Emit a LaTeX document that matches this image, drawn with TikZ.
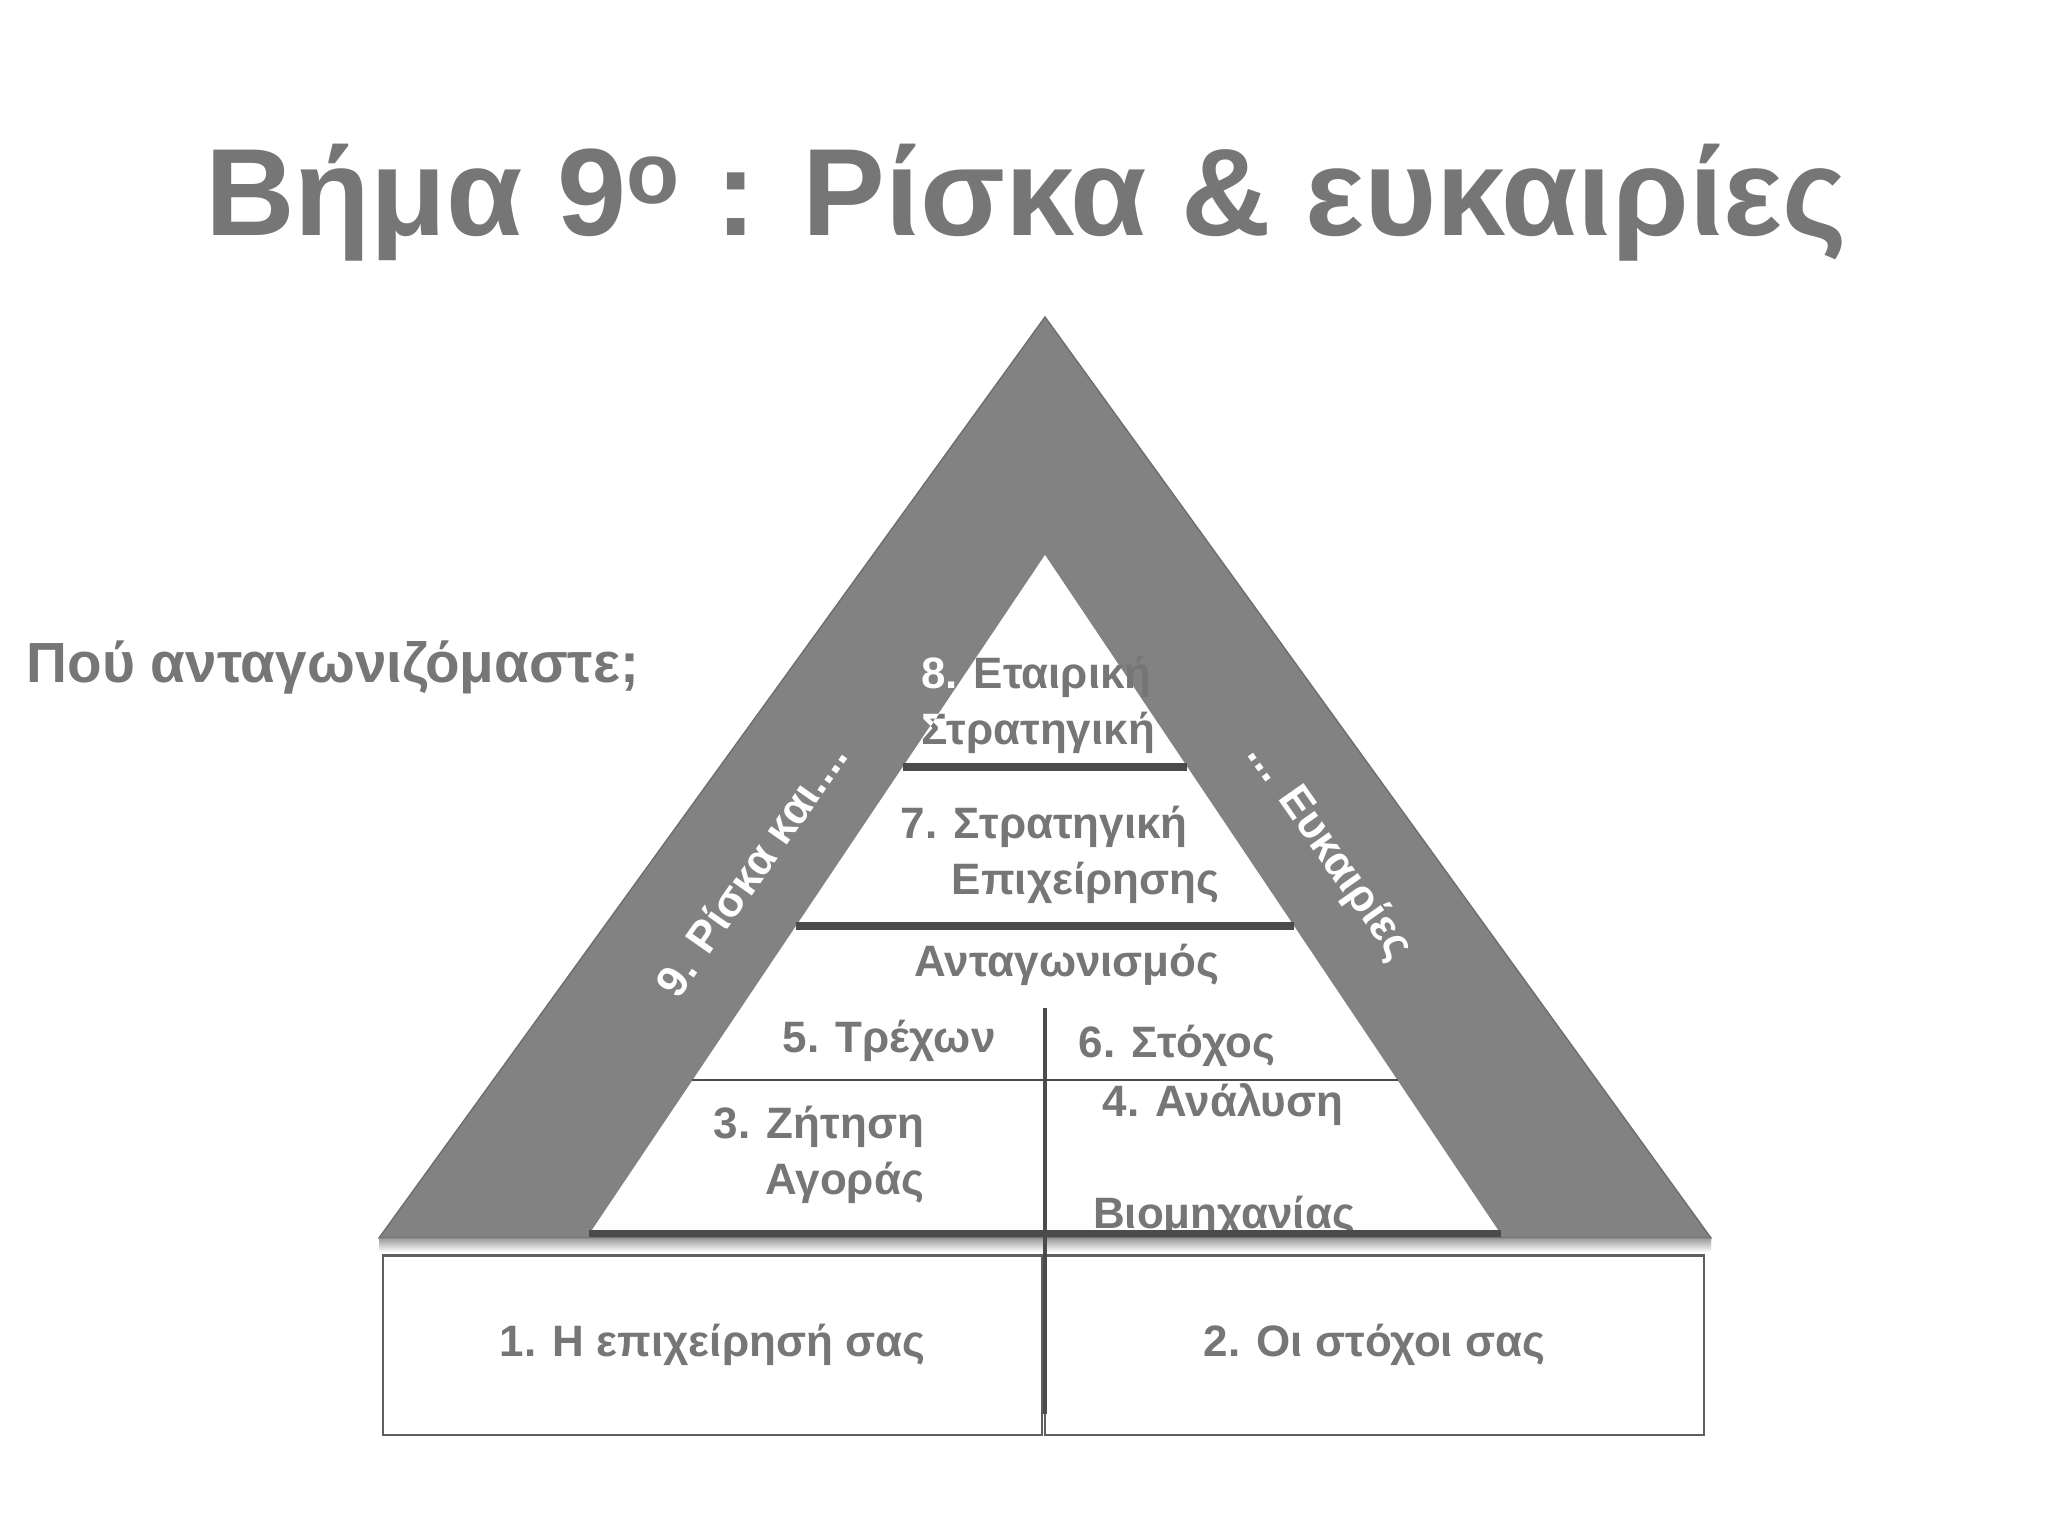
\documentclass[tikz,border=0pt]{standalone}
\usepackage{fontspec}
\setmainfont{Liberation Sans}
\usetikzlibrary{calc}
\definecolor{slidegray}{RGB}{118,118,118}
\definecolor{bandgray}{RGB}{130,130,130}
\definecolor{darkline}{RGB}{75,75,75}
\definecolor{boxline}{RGB}{95,95,95}
\tikzstyle{band}=[fill=bandgray,draw=bandgray!85!black,line width=0.4pt]
\tikzstyle{lbl}=[text=slidegray,font=\bfseries\fontsize{12.5}{16}\selectfont,inner sep=0pt]
\tikzstyle{bandlbl}=[lbl,text=white]
\tikzstyle{box}=[draw=boxline,line width=0.6pt,fill=white,minimum width=6.59cm,minimum height=1.79cm]
\newcommand{\levelline}[2]{
\pgfmathsetmacro{\hw}{0.672*(#1-555)}
\draw[darkline,line width=#2] ({1045-\hw},#1) -- ({1045+\hw},#1);
}
\newcommand{\corplabel}[2]{
\node[lbl,align=left,text=#2] (#1) at (1038,705) {8. Εταιρική\\Στρατηγική};
}

\begin{document}
\begin{tikzpicture}[x=0.01cm,y=-0.01cm]
\useasboundingbox (0,0) rectangle (2048,1536);
% title and question
\node[lbl,font=\bfseries\fontsize{35.3}{40}\selectfont,anchor=base] (title) at (1026,235) {Βήμα 9\textsuperscript{ο} : Ρίσκα \& ευκαιρίες};
\node[lbl,font=\bfseries\fontsize{16.1}{19}\selectfont,anchor=base west] (question) at (26,682) {Πού ανταγωνιζόμαστε;};

% band and pyramid
\coordinate (outertop) at (1045,317);
\coordinate (outerleft) at (379,1238);
\coordinate (outerright) at (1711,1238);
\coordinate (innertop) at (1045,555);
\coordinate (innerleft) at (590,1233);
\coordinate (innerright) at (1500,1233);
\shade[top color=black!40,bottom color=white] (379,1238) rectangle (1711,1252);
\draw[band] (outertop) -- (outerleft) -- (outerright) -- cycle;
\fill[white] (innertop) -- (innerleft) -- (innerright) -- cycle;

\corplabel{corp}{slidegray}
\begin{scope}
\clip (outertop) -- (outerleft) -- (innerleft) -- (innertop) -- cycle;
\corplabel{corpwhite}{white}
\end{scope}
\node[lbl,align=left] (strat) at (1060,855) {7. Στρατηγική\\\hspace*{14.5pt}Επιχείρησης};
\node[lbl] (compet) at (1067,965) {Ανταγωνισμός};
\node[lbl] (current) at (889,1041) {5. Τρέχων};
\node[lbl] (target) at (1177,1046) {6. Στόχος};
\node[lbl,align=right] (demand) at (819,1155) {3. Ζήτηση\\Αγοράς};
\node[lbl] (analysis) at (1223,1105) {4. Ανάλυση};
\node[lbl,anchor=base] (industry) at (1224,1228) {Βιομηχανίας};

\node[bandlbl,rotate=55] (risk) at (751,869) {9. Ρίσκα και....};
\node[bandlbl,rotate=-55] (chance) at (1329,852) {... Ευκαιρίες};

\foreach \y/\w in {767/2pt,926/2pt,1080/0.6pt,1233/2pt} {
  \levelline{\y}{\w}
}
\shade[top color=black!40,bottom color=white,opacity=0.7] (379,1238) rectangle (1711,1252);

% base boxes
\node[lbl,box] (firm) at (712.5,1345) {1. Η επιχείρησή σας};
\node[lbl,box] (goals) at (1374.5,1345) {2. Οι στόχοι σας};
\coordinate (divtop) at (1045,1008);
\coordinate (divbottom) at (1045,1414);
\draw[darkline,line width=1.1pt] (divtop) -- (divbottom);
\end{tikzpicture}
\end{document}
